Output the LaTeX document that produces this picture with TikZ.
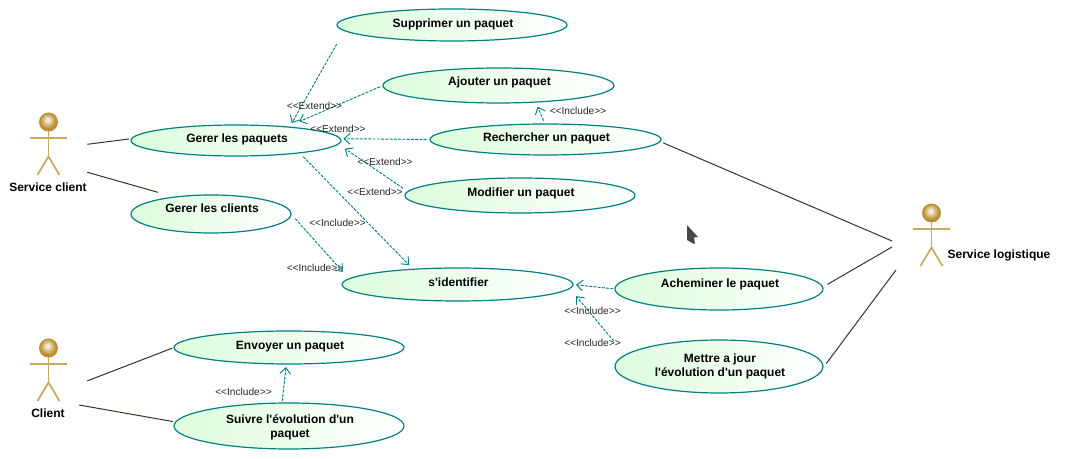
\documentclass[tikz,border=0pt]{standalone}
\usepackage{fontspec}
\setmainfont{Liberation Sans}[Ligatures=TeXOff]
\usetikzlibrary{arrows.meta, shapes.geometric}

\definecolor{caseline}{HTML}{008080}
\definecolor{casefill}{HTML}{DCFDDC}
\definecolor{assocline}{HTML}{3A3224}
\definecolor{actorline}{HTML}{C9A860}
\definecolor{actorball}{HTML}{BE9034}
\pgfdeclareradialshading{actorhead}{\pgfpoint{-3bp}{6bp}}{color(0bp)=(white!92!actorball); color(5bp)=(white!75!actorball); color(20bp)=(actorball); color(60bp)=(actorball!90!black)}

\tikzset{
    usecase/.style n args={3}{ellipse, draw=caseline, line width=.9pt, left color=casefill, right color=white,
        inner sep=0pt, outer sep=0pt, minimum width=#1*.75pt, minimum height=#2*.75pt,
        font=\bfseries\fontsize{9}{10.5}\selectfont, align=center, text height=6.5pt, text depth=#3,
        execute at begin node={\hspace*{1.5pt}}},
    deplabel/.style={font=\fontsize{7.6}{9}\selectfont, text=black!85, inner sep=0pt},
    actorlabel/.style={font=\bfseries\fontsize{9}{11}\selectfont, inner sep=0pt},
    dep/.style={draw=caseline, line width=.7pt, dash pattern=on 2.2pt off 1pt, -{Straight Barb[length=4.5pt, width=8pt]}},
    assoc/.style={draw=assocline, line width=.75pt},
    actor/.pic={
        \draw [actorline, line width=1.3pt] (-18.5, 16) -- (18.5, 16);
        \draw [actorline, line width=1.3pt] (-11, 53) -- (0, 34.5) -- (11, 53);
        \draw [actorline, line width=1.3pt] (0, 0) -- (0, 34.5);
        \node [circle, minimum size=14.25pt, inner sep=0pt, shading=actorhead] (-head) at (0, 0) {};
    }
}

\begin{document}
\begin{tikzpicture}[x=.75pt, y=-.75pt]
    \useasboundingbox (0, 0) rectangle (1065, 459);

    % use cases
    \node [usecase={230}{32}{3.2pt}] (supprimer) at (452, 25) {Supprimer un paquet};
    \node [usecase={231}{35}{6pt}] (ajouter) at (498.5, 85.5) {Ajouter un paquet};
    \node [usecase={231}{31}{3pt}] (rechercher) at (545.5, 139.5) {Rechercher un paquet};
    \node [usecase={210}{31}{3.5pt}] (paquets) at (236, 140.5) {Gerer les paquets};
    \node [usecase={160}{38}{8pt}] (clients) at (211, 214) {Gerer les clients};
    \node [usecase={230}{35}{5.5pt}] (modifier) at (520, 195.5) {Modifier un paquet};
    \node [usecase={231}{33}{4pt}] (identifier) at (457.5, 284.5) {s'identifier};
    \node [usecase={208}{42}{9pt}] (acheminer) at (719, 289) {Acheminer le paquet};
    \node [usecase={208}{53}{2pt}, text height=17pt] (mettre) at (719, 366.5) {Mettre a jour\\l'évolution d'un paquet};
    \node [usecase={230}{33}{4pt}] (envoyer) at (289, 347.5) {Envoyer un paquet};
    \node [usecase={230}{46}{1pt}, text height=18.5pt] (suivre) at (289, 426) {Suivre l'évolution d'un\\paquet};

    % actors
    \pic (client1) at (48.5, 122) {actor};
    \pic (client2) at (48.5, 348) {actor};
    \pic (logist) at (931.5, 213) {actor};
    \node [actorlabel] (labelservice) at (48, 187.3) {Service client};
    \node [actorlabel] (labelclient) at (48, 413.3) {Client};
    \node [actorlabel] (labellogist) at (999, 255.5) {Service logistique};

    % free ends next to the actors
    \coordinate (sc1) at (87.3, 144.3);
    \coordinate (sc2) at (87.3, 172.3);
    \coordinate (cl1) at (87, 381);
    \coordinate (cl2) at (79, 405);
    \coordinate (lg1) at (892, 241);
    \coordinate (lg2) at (892, 247);
    \coordinate (lg3) at (896, 270);

    % associations
    \draw [assoc, shorten >=2pt] (sc1) -- (paquets.179.6);
    \draw [assoc, shorten >=13pt] (sc2) -- (clients.155.2);
    \draw [assoc, shorten >=1.5pt] (cl1) -- (envoyer.180.8);
    \draw [assoc, shorten >=1.9pt] (cl2) -- (suivre.178.2);
    \draw [assoc, shorten <=2.6pt] (rechercher.-1.2) -- (lg1);
    \draw [assoc, shorten <=4.2pt] (acheminer.1.9) -- (lg2);
    \draw [assoc, shorten <=4.4pt] (mettre.-1) -- (lg3);

    % dependencies
    \draw [dep, shorten <=11.6pt, shorten >=3.5pt] (supprimer.183.6) -- (paquets.14.4);
    \draw [dep, shorten <=2.4pt, shorten >=10.3pt] (ajouter.180.8) -- (paquets.15.7);
    \draw [dep, shorten <=2.5pt, shorten >=2.3pt] (rechercher.180.8) -- (paquets.1);
    \draw [dep, shorten <=4.4pt, shorten >=6.1pt] (modifier.178.5) -- (paquets.-2.4);
    \draw [dep, shorten <=4pt, shorten >=4.5pt] (paquets.-11.9) -- (identifier.161.8);
    \draw [dep, shorten <=4.7pt, shorten >=7.1pt] (clients.0.4) -- (identifier.177.7);
    \draw [dep, shorten <=2.7pt, shorten >=3.8pt] (rechercher.92) -- (ajouter.-24.6);
    \draw [dep, shorten <=1.3pt, shorten >=2.3pt] (acheminer.180) -- (identifier.0.25);
    \draw [dep, shorten <=13.8pt, shorten >=7.6pt] (mettre.173.9) -- (identifier.-2.1);
    \draw [dep, shorten <=1.5pt, shorten >=2.3pt] (suivre.107.6) -- (envoyer.261);

    % dependency labels
    \node [deplabel] (ext1) at (314.5, 105.5) {<<Extend>>};
    \node [deplabel] (ext2) at (338, 128.5) {<<Extend>>};
    \node [deplabel] (ext3) at (385, 161.5) {<<Extend>>};
    \node [deplabel] (ext4) at (375, 191.5) {<<Extend>>};
    \node [deplabel] (inc1) at (578, 110.5) {<<Include>>};
    \node [deplabel] (inc2) at (337.5, 222.5) {<<Include>>};
    \node [deplabel] (inc3) at (315, 268) {<<Include>>};
    \node [deplabel] (inc4) at (592.5, 310.5) {<<Include>>};
    \node [deplabel] (inc5) at (592.5, 342.5) {<<Include>>};
    \node [deplabel] (inc6) at (243.5, 391.5) {<<Include>>};

    % mouse pointer
    \fill [black!72] (687, 225) -- (698, 237) -- (694, 237.5) -- (695, 244) -- (692, 243) -- (687, 240) -- cycle;
\end{tikzpicture}
\end{document}
